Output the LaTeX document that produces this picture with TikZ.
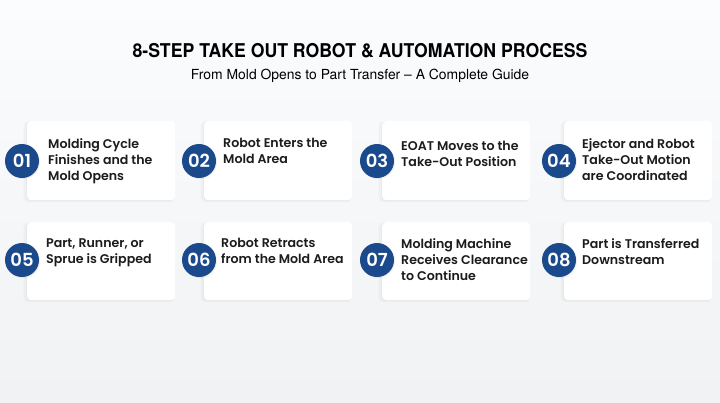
\documentclass[tikz,border=0pt]{standalone}
\usepackage{fontspec}
\setmainfont{Poppins}
\newfontfamily\cardfont{Poppins}[UprightFont=* SemiBold]
\newfontfamily\titlefont{TeX Gyre Heros}[FakeStretch=0.93]
\newfontfamily\subfont{TeX Gyre Heros}
\usepackage{xcolor}
\definecolor{stepblue}{HTML}{1B4A8C}
\definecolor{inkdark}{HTML}{1C1C1E}
\definecolor{pagetop}{HTML}{FBFCFD}
\definecolor{pagebot}{HTML}{F1F2F4}
\usepackage{tikz}
\usetikzlibrary{shadows}

\begin{document}
\begin{tikzpicture}[x=1pt, y=-1pt,
        card/.style={anchor=north west, fill=white, rounded corners=4pt, inner sep=0pt,
            minimum width=148pt, minimum height=79pt,
            drop shadow={shadow xshift=-2pt, shadow yshift=-1pt, opacity=.06, shadow scale=1.02},
            drop shadow={shadow xshift=-1pt, shadow yshift=-1pt, opacity=.06}},
        badge/.style={circle, fill=stepblue, minimum size=34pt, inner sep=0pt, text=white,
            font=\cardfont\fontsize{18}{18}\selectfont,
            drop shadow={shadow xshift=1pt, shadow yshift=-1pt, opacity=.12}},
        steptext/.style={anchor=north west, align=left, inner sep=0pt, text=inkdark,
            font=\cardfont\fontsize{12.6}{16}\selectfont}
    ]
        % fondo
        \useasboundingbox (0,0) rectangle (720,402);
        \shade[top color=pagetop, bottom color=pagebot] (0,0) rectangle (720,402);
        % titulo
        \node (title) at (360,51) {\titlefont\bfseries\fontsize{19}{19}\selectfont 8-STEP TAKE OUT ROBOT \& AUTOMATION PROCESS};
        \node (subtitle) at (360,76) {\subfont\fontsize{13.9}{13.9}\selectfont From Mold Opens to Part Transfer – A Complete Guide};
        % tarjetas fila 1
        \node (c1) [card] at (27,121) {};
        \node (c2) [card] at (204,121) {};
        \node (c3) [card] at (382,121) {};
        \node (c4) [card] at (564,121) {};
        % tarjetas fila 2
        \node (c5) [card, minimum height=78pt] at (27,222) {};
        \node (c6) [card, minimum height=78pt] at (204,222) {};
        \node (c7) [card, minimum height=78pt] at (382,222) {};
        \node (c8) [card, minimum height=78pt] at (564,222) {};
        % numeros
        \node (n1) [badge] at (22,161)  {01};
        \node (n2) [badge] at (199,161) {02};
        \node (n3) [badge] at (377,161) {03};
        \node (n4) [badge] at (559,161) {04};
        \node (n5) [badge] at (22,260)  {05};
        \node (n6) [badge] at (199,260) {06};
        \node (n7) [badge] at (377,260) {07};
        \node (n8) [badge] at (559,260) {08};
        % textos
        \node (t1) [steptext] at (48,138)  {Molding Cycle\\Finishes and the\\Mold Opens};
        \node (t2) [steptext] at (223,138) {Robot Enters the\\Mold Area};
        \node (t3) [steptext] at (401,141) {EOAT Moves to the\\Take-Out Position};
        \node (t4) [steptext] at (582,138) {Ejector and Robot\\Take-Out Motion\\are Coordinated};
        \node (t5) [steptext] at (46,238)  {Part, Runner, or\\Sprue is Gripped};
        \node (t6) [steptext] at (221,238) {Robot Retracts\\from the Mold Area};
        \node (t7) [steptext] at (401,238) {Molding Machine\\Receives Clearance\\to Continue};
        \node (t8) [steptext] at (582,238) {Part is Transferred\\Downstream};
    \end{tikzpicture}
\end{document}
